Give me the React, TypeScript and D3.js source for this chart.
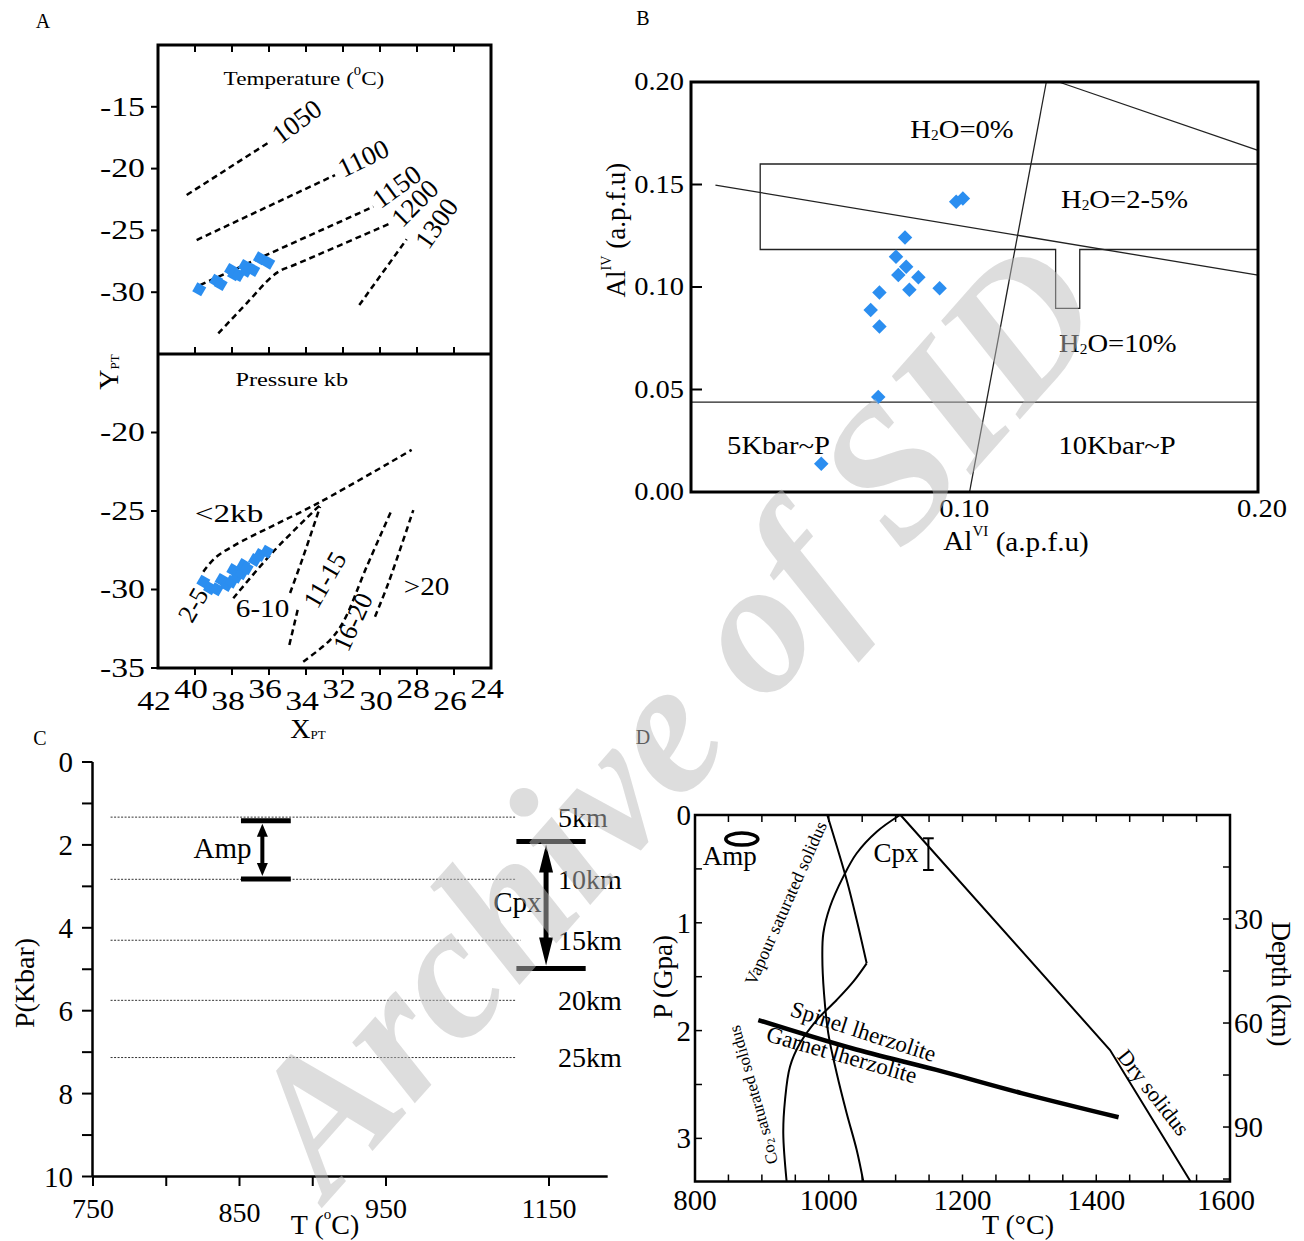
import React from "react";
import * as d3 from "d3";

const FONT = "'Liberation Serif','Times New Roman',serif";
const BLUE = "#2b8ef0";

type P = [number, number];

// ---------- A: XPT / YPT diagram ----------
const xptTicks = [42, 40, 38, 36, 34, 32, 30, 28, 26, 24];
const yTempTicks = [-15, -20, -25, -30];
const yPresTicks = [-20, -25, -30, -35];

const isotherms: { label: string; pts: P[]; at: P; rot: number }[] = [
  { label: "1050", pts: [[40.45, -22.14], [35.95, -17.82]], at: [34.5, -16.2], rot: -37 },
  { label: "1100", pts: [[39.91, -25.78], [32.43, -20.52]], at: [30.9, -19.17], rot: -26 },
  { label: "1150", pts: [[39.73, -29.42], [30.36, -23.08]], at: [29.1, -21.46], rot: -36 },
  {
    label: "1200",
    pts: [[38.74, -33.33], [37.21, -30.9], [35.85, -28.75], [35.31, -28.2], [34.77, -27.88], [29.37, -24.38]],
    at: [28.11, -22.8],
    rot: -45,
  },
  { label: "1300", pts: [[31.12, -31.04], [28.56, -25.72]], at: [26.94, -24.43], rot: -55 },
];

const pressureLines: P[][] = [
  [[39.55, -28.87], [38.92, -27.99], [37.84, -27.17], [33.24, -24.43], [28.29, -21.11]],
  [[37.93, -30.56], [35.77, -27.59], [33.24, -24.62]],
  [[34.9, -33.53], [34.4, -31.05]],
  [[34.86, -30.22], [34.15, -27.91], [33.24, -24.73]],
  [[34.15, -34.6], [32.7, -33.22], [31.98, -32.05], [30.72, -28.55], [29.37, -24.94]],
  [[30.27, -31.73], [29.55, -29.6], [28.2, -24.94]],
];

const pressureFields: { label: string; at: P; rot: number; sx: number }[] = [
  { label: "<2kb", at: [38.16, -25.1], rot: 0, sx: 1.28 },
  { label: "2-5", at: [40.09, -30.99], rot: -60, sx: 1 },
  { label: "6-10", at: [36.35, -31.18], rot: 0, sx: 1.12 },
  { label: "11-15", at: [32.97, -29.39], rot: -60, sx: 1 },
  { label: "16-20", at: [31.46, -32.07], rot: -65, sx: 1 },
  { label: ">20", at: [27.48, -29.78], rot: 0, sx: 1.12 },
];

const tempPts: P[] = [
  [39.77, -29.77], [38.86, -29.07], [38.61, -29.34], [38.05, -28.2], [37.89, -28.55], [37.66, -28.61],
  [37.3, -27.88], [37.24, -28.26], [36.85, -28.2], [36.49, -27.26], [36.04, -27.61],
];

const presPts: P[] = [
  [39.55, -29.5], [39.19, -29.92], [38.83, -29.99], [38.56, -29.39], [38.29, -29.71], [38.02, -29.5],
  [37.93, -28.76], [37.75, -29.18], [37.48, -28.97], [37.39, -28.44], [37.21, -28.65], [36.76, -28.12],
  [36.49, -27.8], [36.12, -27.59],
];

// ---------- B: AlIV vs AlVI ----------
const alYTicks = [0, 0.05, 0.1, 0.15, 0.2];
const alXTicks = [0.1, 0.2];
const alPts: P[] = [
  [0.0962, 0.1416], [0.0985, 0.1432], [0.0786, 0.1242], [0.0755, 0.1148], [0.079, 0.1099], [0.0763, 0.1059],
  [0.0832, 0.1047], [0.0801, 0.0986], [0.0905, 0.0994], [0.0698, 0.0973], [0.0668, 0.0888], [0.0698, 0.0807],
  [0.0694, 0.0463], [0.0498, 0.0138],
];
const alBoundaries: P[][] = [
  [[0.1008, 0], [0.1272, 0.2]],
  [[0.1315, 0.2], [0.2, 0.1667]],
  [[0.0134, 0.1497], [0.2, 0.1058]],
  [[0.005, 0.0438], [0.2, 0.0438]],
  [[0.2, 0.16], [0.0288, 0.16], [0.0288, 0.1183], [0.1304, 0.1183], [0.1304, 0.0896], [0.1387, 0.0896], [0.1387, 0.1183], [0.2, 0.1183]],
];
const alFields: { label: string; sub?: string; rest?: string; at: P }[] = [
  { label: "H", sub: "2", rest: "O=0%", at: [0.0982, 0.1771] },
  { label: "H", sub: "2", rest: "O=2-5%", at: [0.1541, 0.1429] },
  { label: "H", sub: "2", rest: "O=10%", at: [0.1518, 0.0727] },
  { label: "5Kbar~P", at: [0.0351, 0.0229] },
  { label: "10Kbar~P", at: [0.1515, 0.0229] },
];

// ---------- C: P-T bars ----------
const cPTicks = [0, 1, 2, 3, 4, 5, 6, 7, 8, 9, 10];
const cPLabels = [0, 2, 4, 6, 8, 10];
const cTTicks = [750, 800, 850, 900, 950, 1150];
const cTLabels = [750, 850, 950, 1150];
const depthP = [1.33, 2.83, 4.3, 5.75, 7.13];
const depthNames = ["5km", "10km", "15km", "20km", "25km"];
const depthLineEnd = [1109, 1109, 1115, 1109, 1109];
const ampRange = { tMin: 851, tMax: 885, t: 865.6, pTop: 1.42, pBot: 2.82 };
const cpxRange = { tMin: 1110, tMax: 1195, t: 1146.4, pTop: 1.92, pBot: 4.98 };

// ---------- D: solidus diagram ----------
const dTTicks = d3.range(800, 1601, 50);
const dTLabels = [800, 1000, 1200, 1400, 1600];
const dPTicks = [0.5, 1, 1.5, 2, 2.5, 3];
const dPLabels = [0, 1, 2, 3];
const depthTicks = [15, 30, 45, 60, 75, 90, 105];
const depthLabels = [30, 60, 90];
const vapourUpper: P[] = [[997.8, 0], [1026.8, 0.603], [1041.8, 0.974], [1056.7, 1.376]];
const vapourLower: P[] = [
  [1056.7, 1.376], [1036.7, 1.546], [1011.9, 1.716], [982, 1.902], [957, 2.118], [942, 2.335],
  [934.6, 2.644], [932, 2.953], [937, 3.4],
];
const co2Solidus: P[] = [
  [1106.5, 0], [1071.7, 0.155], [1041.8, 0.355], [1021.8, 0.572], [1001.9, 0.851], [991.9, 1.097],
  [990.4, 1.314], [992.9, 1.654], [999.3, 2.025], [1011.9, 2.396], [1026.8, 2.767], [1041.8, 3.108], [1051.7, 3.4],
];
const drySolidus: P[] = [[1107.3, 0], [1420.6, 2.18], [1541, 3.4]];
const spinelGarnet: P[] = [[894.7, 1.902], [1034.5, 2.164], [1161, 2.365], [1288, 2.58], [1433.4, 2.804]];
const ampEllipse = { t: 870, p: 0.223, dt: 24, dp: 0.056 };
const cpxBar = { t: 1149, p0: 0.216, p1: 0.51, dt: 8 };

function Txt(props: any) {
  const { x, y, size, rot = 0, sx = 1, anchor = "middle", base = "central", fill = "#000", weight = "normal", italic = false, opacity, children } = props;
  return (
    <text
      transform={`translate(${x},${y}) rotate(${rot}) scale(${sx},1)`}
      fontSize={size}
      fontFamily={FONT}
      textAnchor={anchor}
      dominantBaseline={base}
      fill={fill}
      fillOpacity={opacity}
      fontWeight={weight}
      fontStyle={italic ? "italic" : "normal"}
    >
      {children}
    </text>
  );
}

const square = d3.symbol(d3.symbolSquare, 105)() as string;

function PanelA() {
  const x = d3.scaleLinear().domain([42, 24]).range([158, 491]);
  const yT = d3.scaleLinear().domain([-35, -10]).range([354, 45]);
  const yB = d3.scaleLinear().domain([-35, -15]).range([668, 354]);
  const lineT = d3.line<P>().x((d) => x(d[0])).y((d) => yT(d[1])).curve(d3.curveCatmullRom);
  const lineB = d3.line<P>().x((d) => x(d[0])).y((d) => yB(d[1])).curve(d3.curveCatmullRom);
  const dash = { fill: "none", stroke: "#000", strokeWidth: 2.5, strokeDasharray: "6,4" };
  return (
    <g>
      {isotherms.map((d) => (
        <g key={d.label}>
          <path d={lineT(d.pts) as string} {...dash} />
          <Txt x={x(d.at[0])} y={yT(d.at[1])} size={27} rot={d.rot}>{d.label}</Txt>
        </g>
      ))}
      {pressureLines.map((pts, i) => (
        <path key={i} d={lineB(pts) as string} {...dash} />
      ))}
      {pressureFields.map((d) => (
        <Txt key={d.label} x={x(d.at[0])} y={yB(d.at[1])} size={26} rot={d.rot} sx={d.sx}>{d.label}</Txt>
      ))}
      {tempPts.map((d, i) => (
        <path key={"t" + i} d={square} fill={BLUE} transform={`translate(${x(d[0])},${yT(d[1])}) rotate(30)`} />
      ))}
      {presPts.map((d, i) => (
        <path key={"p" + i} d={square} fill={BLUE} transform={`translate(${x(d[0])},${yB(d[1])}) rotate(30)`} />
      ))}
      <Txt x={x(34.11)} y={yT(-12.7)} size={19} sx={1.22}>
        Temperature (<tspan fontSize={12} dy={-8}>0</tspan><tspan dy={8}>C)</tspan>
      </Txt>
      <Txt x={x(34.77)} y={yB(-16.62)} size={19} sx={1.28}>Pressure kb</Txt>

      <rect x={158} y={45} width={333} height={623} fill="none" stroke="#000" strokeWidth={3} />
      <line x1={158} x2={491} y1={354} y2={354} stroke="#000" strokeWidth={3} />
      {xptTicks.slice(1, -1).map((v) => (
        <g key={v} stroke="#000" strokeWidth={2}>
          <line x1={x(v)} x2={x(v)} y1={45} y2={52} />
          <line x1={x(v)} x2={x(v)} y1={354} y2={347} />
          <line x1={x(v)} x2={x(v)} y1={668} y2={675} />
        </g>
      ))}
      {yTempTicks.map((v) => (
        <g key={"yt" + v}>
          <line x1={151} x2={158} y1={yT(v)} y2={yT(v)} stroke="#000" strokeWidth={2} />
          <Txt x={145} y={yT(v)} size={27} sx={1.25} anchor="end">{String(v)}</Txt>
        </g>
      ))}
      {yPresTicks.map((v) => (
        <g key={"yp" + v}>
          <line x1={151} x2={158} y1={yB(v)} y2={yB(v)} stroke="#000" strokeWidth={2} />
          <Txt x={145} y={yB(v)} size={27} sx={1.25} anchor="end">{String(v)}</Txt>
        </g>
      ))}
      {xptTicks.map((v, i) => (
        <Txt key={"xl" + v} x={x(v) - 4} y={i % 2 === 0 ? 701 : 689} size={27} sx={1.25}>{String(v)}</Txt>
      ))}
      <Txt x={108} y={372} size={28} rot={-90}>
        Y<tspan fontSize={13} dy={6}>PT</tspan>
      </Txt>
      <Txt x={308} y={728} size={28}>
        X<tspan fontSize={13} dy={6}>PT</tspan>
      </Txt>
      <Txt x={43} y={21} size={20}>A</Txt>
    </g>
  );
}

function PanelB() {
  const x = d3.scaleLinear().domain([0.005, 0.2]).range([691, 1258]);
  const y = d3.scaleLinear().domain([0, 0.2]).range([492, 82]);
  const line = d3.line<P>().x((d) => x(d[0])).y((d) => y(d[1]));
  const fmt = d3.format(".2f");
  return (
    <g>
      {alBoundaries.map((pts, i) => (
        <path key={i} d={line(pts) as string} fill="none" stroke="#222" strokeWidth={1.3} />
      ))}
      {alFields.map((d) => (
        <Txt key={d.label + (d.rest || "")} x={x(d.at[0])} y={y(d.at[1])} size={26} sx={1.1}>
          {d.label}
          {d.sub ? <tspan fontSize={14} dy={6}>{d.sub}</tspan> : null}
          {d.rest ? <tspan dy={-6}>{d.rest}</tspan> : null}
        </Txt>
      ))}
      {alPts.map((d, i) => (
        <path key={i} d={square} fill={BLUE} transform={`translate(${x(d[0])},${y(d[1])}) rotate(45)`} />
      ))}
      <rect x={691} y={82} width={567} height={410} fill="none" stroke="#000" strokeWidth={3} />
      {alYTicks.map((v) => (
        <g key={v}>
          <line x1={691} x2={702} y1={y(v)} y2={y(v)} stroke="#000" strokeWidth={2} />
          <Txt x={684} y={y(v)} size={25} sx={1.14} anchor="end">{fmt(v)}</Txt>
        </g>
      ))}
      {alXTicks.map((v) => (
        <Txt key={v} x={x(v) + (v === 0.1 ? -3 : 4)} y={509} size={25} sx={1.14}>{fmt(v)}</Txt>
      ))}
      <Txt x={616} y={230} size={27} rot={-90}>
        Al<tspan fontSize={14} dy={-10}>IV</tspan><tspan dy={10}> (a.p.f.u)</tspan>
      </Txt>
      <Txt x={1016} y={541} size={27} sx={1.08}>
        Al<tspan fontSize={14} dy={-10}>VI</tspan><tspan dy={10}> (a.p.f.u)</tspan>
      </Txt>
      <Txt x={643} y={18} size={20}>B</Txt>
    </g>
  );
}

function PanelC() {
  const x = d3.scaleLinear().domain([750, 950, 1150]).range([93, 386, 549]);
  const y = d3.scaleLinear().domain([0, 10]).range([762, 1176.5]);
  const headA = (cx: number, tip: number, dir: number, len: number, w: number) =>
    `M${cx},${tip} L${cx - w / 2},${tip + dir * len} L${cx + w / 2},${tip + dir * len} Z`;
  const amp = { x: x(ampRange.t), t: y(ampRange.pTop) + 3, b: y(ampRange.pBot) - 3 };
  const cpx = { x: x(cpxRange.t), t: y(cpxRange.pTop) + 3, b: y(cpxRange.pBot) - 3 };
  return (
    <g>
      {depthP.map((p, i) => (
        <g key={p}>
          <line x1={x(762)} x2={x(depthLineEnd[i])} y1={y(p)} y2={y(p)} stroke="#333" strokeWidth={1} strokeDasharray="2,1.5" />
          <Txt x={x(1161)} y={y(p)} size={28} anchor="start">{depthNames[i]}</Txt>
        </g>
      ))}
      <g>
        <line x1={x(ampRange.tMin)} x2={x(ampRange.tMax)} y1={y(ampRange.pTop)} y2={y(ampRange.pTop)} stroke="#000" strokeWidth={5} />
        <line x1={x(ampRange.tMin)} x2={x(ampRange.tMax)} y1={y(ampRange.pBot)} y2={y(ampRange.pBot)} stroke="#000" strokeWidth={5} />
        <line x1={amp.x} x2={amp.x} y1={amp.t + 10} y2={amp.b - 10} stroke="#000" strokeWidth={4} />
        <path d={headA(amp.x, amp.t, 1, 13, 11)} fill="#000" />
        <path d={headA(amp.x, amp.b, -1, 13, 11)} fill="#000" />
        <Txt x={x(838.4)} y={y(2.07)} size={29}>Amp</Txt>
      </g>
      <g>
        <line x1={x(cpxRange.tMin)} x2={x(cpxRange.tMax)} y1={y(cpxRange.pTop)} y2={y(cpxRange.pTop)} stroke="#000" strokeWidth={5} />
        <line x1={x(cpxRange.tMin)} x2={x(cpxRange.tMax)} y1={y(cpxRange.pBot)} y2={y(cpxRange.pBot)} stroke="#000" strokeWidth={5} />
        <line x1={cpx.x} x2={cpx.x} y1={cpx.t + 25} y2={cpx.b - 25} stroke="#000" strokeWidth={5} />
        <path d={headA(cpx.x, cpx.t, 1, 28, 14)} fill="#000" />
        <path d={headA(cpx.x, cpx.b, -1, 28, 14)} fill="#000" />
        <Txt x={x(1111.2)} y={y(3.38)} size={29}>Cpx</Txt>
      </g>
      <line x1={92.5} x2={92.5} y1={762} y2={1176.5} stroke="#000" strokeWidth={2.5} />
      <line x1={92.5} x2={x(1222)} y1={1176.5} y2={1176.5} stroke="#000" strokeWidth={2.5} />
      {cPTicks.map((v) => (
        <line key={v} x1={82} x2={92.5} y1={y(v)} y2={y(v)} stroke="#000" strokeWidth={2} />
      ))}
      {cPLabels.map((v) => (
        <Txt key={v} x={73} y={y(v)} size={29} anchor="end">{String(v)}</Txt>
      ))}
      {cTTicks.map((v) => (
        <line key={v} x1={x(v)} x2={x(v)} y1={1176.5} y2={1186} stroke="#000" strokeWidth={2} />
      ))}
      {cTLabels.map((v) => (
        <Txt key={v} x={x(v)} y={v === 850 ? 1212 : 1208} size={28}>{String(v)}</Txt>
      ))}
      <Txt x={24} y={983} size={28} rot={-90}>P(Kbar)</Txt>
      <Txt x={325} y={1224} size={28}>
        T (<tspan fontSize={15} dy={-10}>o</tspan><tspan dy={10}>C)</tspan>
      </Txt>
      <Txt x={40} y={738} size={20}>C</Txt>
    </g>
  );
}

function PanelD() {
  const x = d3.scaleLinear().domain([800, 1600]).range([695, 1230]);
  const y = d3.scaleLinear().domain([0, 3.4]).range([815, 1181.5]);
  const depth = d3.scaleLinear().domain([0, 106]).range([815, 1182.5]);
  const lin = d3.line<P>().x((d) => x(d[0])).y((d) => y(d[1]));
  const smooth = d3.line<P>().x((d) => x(d[0])).y((d) => y(d[1])).curve(d3.curveCatmullRom);
  const curve = { fill: "none", stroke: "#000", strokeWidth: 2 };
  return (
    <g>
      <path d={smooth(vapourUpper) as string} {...curve} />
      <path d={smooth(vapourLower) as string} {...curve} />
      <path d={smooth(co2Solidus) as string} {...curve} />
      <path d={lin(drySolidus) as string} {...curve} />
      <path d={smooth(spinelGarnet) as string} fill="none" stroke="#000" strokeWidth={4.5} />
      <ellipse
        cx={x(ampEllipse.t)}
        cy={y(ampEllipse.p)}
        rx={x(ampEllipse.t + ampEllipse.dt) - x(ampEllipse.t)}
        ry={y(ampEllipse.p + ampEllipse.dp) - y(ampEllipse.p)}
        fill="none"
        stroke="#000"
        strokeWidth={3.5}
      />
      <g stroke="#000" strokeWidth={2}>
        <line x1={x(cpxBar.t)} x2={x(cpxBar.t)} y1={y(cpxBar.p0)} y2={y(cpxBar.p1)} />
        <line x1={x(cpxBar.t - cpxBar.dt)} x2={x(cpxBar.t + cpxBar.dt)} y1={y(cpxBar.p0)} y2={y(cpxBar.p0)} />
        <line x1={x(cpxBar.t - cpxBar.dt)} x2={x(cpxBar.t + cpxBar.dt)} y1={y(cpxBar.p1)} y2={y(cpxBar.p1)} />
      </g>
      <Txt x={x(852)} y={y(0.38)} size={27}>Amp</Txt>
      <Txt x={x(1100.6)} y={y(0.35)} size={27}>Cpx</Txt>
      <Txt x={x(935.8)} y={y(0.819)} size={18} rot={-66}>Vapour saturated solidus</Txt>
      <Txt x={x(887.2)} y={y(2.597)} size={17} rot={-106}>
        Co<tspan fontSize={11} dy={4}>2</tspan><tspan dy={-4}> saturated solidus</tspan>
      </Txt>
      <Txt x={x(1051.7)} y={y(2.01)} size={23} rot={18}>Spinel lherzolite</Txt>
      <Txt x={x(1019.4)} y={y(2.226)} size={23} rot={16}>Garnet lherzolite</Txt>
      <Txt x={x(1485.6)} y={y(2.574)} size={22} rot={52}>Dry solidus</Txt>

      <rect x={695} y={815} width={535} height={366.5} fill="none" stroke="#000" strokeWidth={2.5} />
      {dTTicks.slice(1, -1).map((v) => (
        <g key={v} stroke="#000" strokeWidth={1.5}>
          <line x1={x(v)} x2={x(v)} y1={815} y2={822} />
          <line x1={x(v)} x2={x(v)} y1={1181.5} y2={1174.5} />
        </g>
      ))}
      {dPTicks.map((v) => (
        <line key={v} x1={695} x2={702} y1={y(v)} y2={y(v)} stroke="#000" strokeWidth={1.5} />
      ))}
      {depthTicks.map((v) => (
        <line key={v} x1={1230} x2={1223} y1={depth(v)} y2={depth(v)} stroke="#000" strokeWidth={1.5} />
      ))}
      {dTLabels.map((v) => (
        <Txt key={v} x={x(v) - (v === 1600 ? 4 : 0)} y={1200} size={29}>{String(v)}</Txt>
      ))}
      {dPLabels.map((v) => (
        <Txt key={v} x={691} y={y(v)} size={29} anchor="end">{String(v)}</Txt>
      ))}
      {depthLabels.map((v) => (
        <Txt key={v} x={1234} y={depth(v)} size={29} anchor="start">{String(v)}</Txt>
      ))}
      <Txt x={663} y={977} size={27} rot={-90}>P (Gpa)</Txt>
      <Txt x={1281} y={984} size={27} rot={90}>Depth (km)</Txt>
      <Txt x={1018} y={1224} size={28}>T (°C)</Txt>
      <Txt x={643} y={737} size={20}>D</Txt>
    </g>
  );
}

export default function App() {
  return (
    <svg
      width={1304}
      height={1241}
      style={{ position: "absolute", left: 0, top: 0, background: "#fff" }}
      fontFamily={FONT}
    >
      <rect width={1304} height={1241} fill="#fff" />
      <PanelA />
      <PanelB />
      <PanelC />
      <PanelD />
      <Txt x={672} y={716} size={190} rot={-48.5} weight="bold" italic fill="#bcbcbc" opacity={0.5}>
        Archive of SID
      </Txt>
    </svg>
  );
}
